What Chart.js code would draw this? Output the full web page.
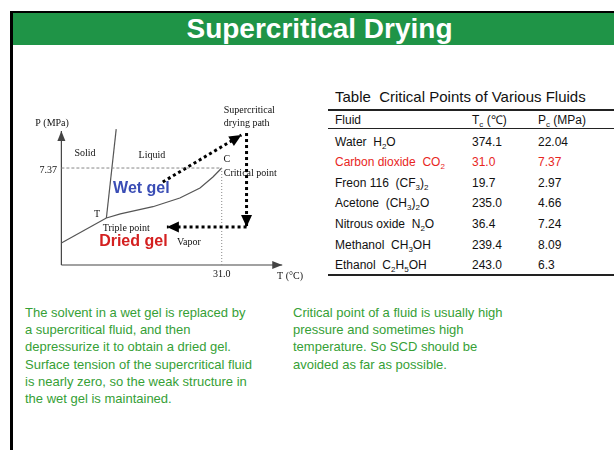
<!DOCTYPE html>
<html>
<head>
<meta charset="utf-8">
<script src="https://cdn.jsdelivr.net/npm/chart.js@4/dist/chart.umd.min.js"></script>
<style>
  body { margin: 0; background: #fff; width: 614px; height: 450px; overflow: hidden; position: relative; font-family: "Liberation Sans", Arial, sans-serif; }
  #frameTop { position: absolute; left: 10px; top: 11px; width: 604px; height: 2px; background: #000; }
  #frameLeft { position: absolute; left: 10px; top: 11px; width: 3px; height: 439px; background: #000; }
  #band { position: absolute; left: 13px; top: 13px; width: 601px; height: 32px; background: #1f9447; color: #fff;
          font-weight: bold; font-size: 28px; text-align: center; line-height: 32px; }
  #band span { position: relative; left: 6px; }
  #phase { position: absolute; left: 20px; top: 90px; }
  #tblTitle { position: absolute; left: 335px; top: 88px; font-size: 15px; white-space: pre; color: #111; }
  .rule { position: absolute; left: 328px; width: 286px; background: #222; }
  .cell { position: absolute; font-size: 12px; color: #111; white-space: pre; line-height: 14px; }
  .cell sub { font-size: 8px; vertical-align: -3px; line-height: 0; }
  .red { color: #e8261e; }
  .para { position: absolute; top: 304px; font-size: 13px; line-height: 17.2px; color: #36a036; }
</style>
</head>
<body>
<div id="frameTop"></div>
<div id="frameLeft"></div>
<div id="band"><span>Supercritical Drying</span></div>

<canvas id="phase" width="300" height="200"></canvas>

<div id="tblTitle">Table  Critical Points of Various Fluids</div>
<div class="rule" style="top:109px;height:2px"></div>
<div class="rule" style="top:128px;height:1px"></div>
<div class="rule" style="top:274px;height:2px"></div>
<div id="tbl"></div>

<div class="para" style="left:25px">The solvent in a wet gel is replaced by<br>a supercritical fluid, and then<br>depressurize it to obtain a dried gel.<br>Surface tension of the supercritical fluid<br>is nearly zero, so the weak structure in<br>the wet gel is maintained.</div>
<div class="para" style="left:293px">Critical point of a fluid is usually high<br>pressure and sometimes high<br>temperature.  So SCD should be<br>avoided as far as possible.</div>

<script>
// table data
var fluids = ["Water  H<sub>2</sub>O", "Carbon dioxide  CO<sub>2</sub>", "Freon 116  (CF<sub>3</sub>)<sub>2</sub>",
              "Acetone  (CH<sub>3</sub>)<sub>2</sub>O", "Nitrous oxide  N<sub>2</sub>O", "Methanol  CH<sub>3</sub>OH",
              "Ethanol  C<sub>2</sub>H<sub>5</sub>OH"];
var critTemp = ["374.1", "31.0", "19.7", "235.0", "36.4", "239.4", "243.0"];
var critPres = ["22.04", "7.37", "2.97", "4.66", "7.24", "8.09", "6.3"];
var highlightRow = 1;

// phase diagram of CO2 (schematic, T and P in axis units)
var sublimationT = [0, 8.7];
var sublimationP = [1.67, 3.57];
var meltingT = [8.7, 10.6];
var meltingP = [3.57, 10.33];
var boilingT = [8.7, 11.4, 17.7, 22.9, 26.8, 29.3, 31.0];
var boilingP = [3.57, 3.88, 4.43, 5.09, 5.85, 6.69, 7.37];
var criticalT = 31.0;
var criticalP = 7.37;
var pathT = [19.6, 34.8, 35.8, 35.8, 20.4];
var pathP = [6.31, 9.88, 10.03, 2.89, 2.89];
var axisTmax = 42.7;
var axisPmax = 10.18;

// build the table
var html = "";
var rowY = [142, 162, 183, 203, 224, 245, 265];
html += '<div class="cell" style="left:335px;top:113px">Fluid</div>';
html += '<div class="cell" style="left:472px;top:113px">T<sub>c</sub> (\u2103)</div>';
html += '<div class="cell" style="left:538px;top:113px">P<sub>c</sub> (MPa)</div>';
for (var i = 0; i < fluids.length; i++) {
  var cls = "cell" + (i == highlightRow ? " red" : "");
  var rowTop = rowY[i] - 7;
  html += '<div class="' + cls + '" style="left:335px;top:' + rowTop + 'px">' + fluids[i] + '</div>';
  html += '<div class="' + cls + '" style="left:472px;top:' + rowTop + 'px">' + critTemp[i] + '</div>';
  html += '<div class="' + cls + '" style="left:538px;top:' + rowTop + 'px">' + critPres[i] + '</div>';
}
document.getElementById("tbl").innerHTML = html;

function pts(xs, ys) {
  var out = [];
  for (var i = 0; i < xs.length; i++) out.push({x: xs[i], y: ys[i]});
  return out;
}

// text labels placed in data coordinates
var serif = "10px 'Liberation Serif', 'Times New Roman', serif";
var labels = [
  {t: "P (MPa)", x: -1.8, y: 10.79, f: serif, a: "center"},
  {t: "7.37", x: -0.85, y: 7.22, f: serif, a: "right"},
  {t: "Solid", x: 4.56, y: 8.51, f: serif, a: "center"},
  {t: "Liquid", x: 17.5, y: 8.36, f: serif, a: "center"},
  {t: "C", x: 32.0, y: 8.05, f: serif, a: "center"},
  {t: "Critical point", x: 31.4, y: 6.99, f: serif, a: "left"},
  {t: "Supercritical", x: 31.4, y: 11.78, f: serif, a: "left"},
  {t: "drying path", x: 31.4, y: 10.79, f: serif, a: "left"},
  {t: "T", x: 6.9, y: 3.88, f: serif, a: "center"},
  {t: "Triple point", x: 8.0, y: 2.81, f: serif, a: "left"},
  {t: "Vapor", x: 22.35, y: 1.75, f: serif, a: "left"},
  {t: "31.0", x: 31.0, y: -0.68, f: serif, a: "center"},
  {t: "T (\u00b0C)", x: 41.7, y: -0.84, f: serif, a: "left"},
  {t: "Wet gel", x: 10.0, y: 5.78, f: "bold 16px 'Liberation Sans', Arial, sans-serif", a: "left", c: "#3a4db5"},
  {t: "Dried gel", x: 7.3, y: 1.75, f: "bold 16px 'Liberation Sans', Arial, sans-serif", a: "left", c: "#d42020"}
];

var arrowPlugin = {
  id: "arrows",
  afterDatasetsDraw: function(chart) {
    var c = chart.ctx;
    chart.data.datasets.forEach(function(ds, di) {
      if (!ds.arrowLen) return;
      var els = chart.getDatasetMeta(di).data;
      var a = els[els.length - 2], b = els[els.length - 1];
      var ang = Math.atan2(b.y - a.y, b.x - a.x);
      var L = ds.arrowLen, W = ds.arrowWid;
      c.save();
      c.fillStyle = ds.borderColor;
      c.beginPath();
      c.moveTo(b.x, b.y);
      c.lineTo(b.x - L * Math.cos(ang) + W / 2 * Math.sin(ang), b.y - L * Math.sin(ang) - W / 2 * Math.cos(ang));
      c.lineTo(b.x - L * Math.cos(ang) - W / 2 * Math.sin(ang), b.y - L * Math.sin(ang) + W / 2 * Math.cos(ang));
      c.closePath();
      c.fill();
      c.restore();
    });
    // text
    var xs = chart.scales.x, ys = chart.scales.y;
    c.save();
    c.textBaseline = "middle";
    labels.forEach(function(l) {
      c.font = l.f;
      c.fillStyle = l.c || "#111";
      c.textAlign = l.a;
      c.fillText(l.t, xs.getPixelForValue(l.x), ys.getPixelForValue(l.y));
    });
    c.restore();
  }
};

function lineDs(data, color, width, dash, extra) {
  var d = {data: data, showLine: true, pointRadius: 0, borderColor: color, backgroundColor: color,
           borderWidth: width, borderDash: dash || [], fill: false, tension: 0};
  for (var k in extra) d[k] = extra[k];
  return d;
}

new Chart(document.getElementById("phase"), {
  type: "scatter",
  data: {
    datasets: [
      lineDs(pts([0, criticalT], [criticalP, criticalP]), "#888", 1, [3, 2]),
      lineDs(pts([criticalT, criticalT], [0, criticalP]), "#888", 1, [1, 2]),
      lineDs(pts(sublimationT, sublimationP), "#555", 1.2),
      lineDs(pts(meltingT, meltingP), "#555", 1.2),
      lineDs(pts(boilingT, boilingP), "#555", 1.2, {cubicInterpolationMode: "monotone"}),
      lineDs(pts([0, 0], [0, axisPmax]), "#444", 1.2, [], {arrowLen: 10, arrowWid: 8}),
      lineDs(pts([0, axisTmax], [0, 0]), "#444", 1.2, [], {arrowLen: 10, arrowWid: 8}),
      lineDs(pts(pathT.slice(0, 2), pathP.slice(0, 2)), "#000", 3, [3, 3], {arrowLen: 12, arrowWid: 11}),
      lineDs(pts(pathT.slice(2, 4), pathP.slice(2, 4)), "#000", 3, [3, 3], {arrowLen: 12, arrowWid: 11}),
      lineDs(pts(pathT.slice(3, 5), pathP.slice(3, 5)), "#000", 3, [3, 3], {arrowLen: 12, arrowWid: 11})
    ]
  },
  options: {
    responsive: false,
    animation: false,
    layout: {padding: 0},
    plugins: {legend: {display: false}, tooltip: {enabled: false}},
    scales: {
      x: {type: "linear", display: false, min: -8, max: 50},
      y: {type: "linear", display: false, min: -1.9, max: 13.3}
    }
  },
  plugins: [arrowPlugin]
});
</script>
</body>
</html>
